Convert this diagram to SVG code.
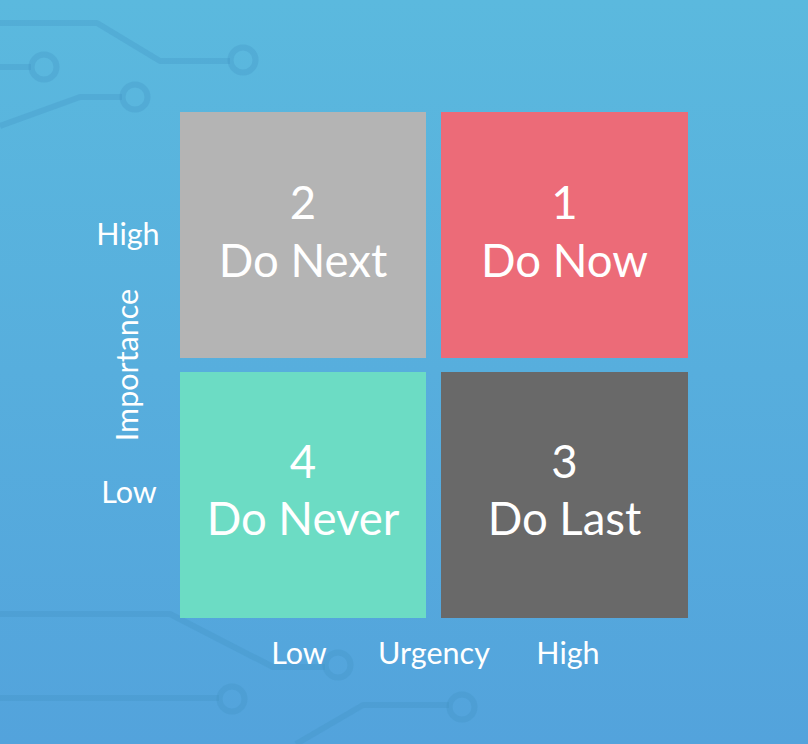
<svg xmlns="http://www.w3.org/2000/svg" width="808" height="744" viewBox="0 0 808 744">
<defs>
<linearGradient id="bg" x1="0" y1="0" x2="0" y2="1">
<stop offset="0" stop-color="#5bb9de"/>
<stop offset="1" stop-color="#53a3dc"/>
</linearGradient>
<style>
.c{fill:none;stroke:#3f8fc0;stroke-opacity:0.27;stroke-width:6;stroke-linejoin:round}
.q{font-family:Lato,"Open Sans","Liberation Sans",sans-serif;fill:#ffffff;text-anchor:middle;font-size:45.5px}
.a{font-family:Lato,"Open Sans","Liberation Sans",sans-serif;fill:#ffffff;text-anchor:middle;font-size:30.5px}
</style>
</defs>
<rect x="0" y="0" width="808" height="744" fill="url(#bg)"/>
<g id="circuits">
<path class="c" d="M0 23 H97 L160 61 H230"/>
<circle class="c" cx="243" cy="60" r="12.5"/>
<path class="c" d="M0 67 H31"/>
<circle class="c" cx="44" cy="67" r="12.5"/>
<path class="c" d="M0 126 L80 97 H122"/>
<circle class="c" cx="135" cy="97" r="12.5"/>
<path class="c" d="M0 614 H170 L273 667 H325"/>
<circle class="c" cx="338" cy="665" r="12.5"/>
<path class="c" d="M0 698 H219"/>
<circle class="c" cx="232" cy="699" r="12.5"/>
<path class="c" d="M296 744 L363 705 H449"/>
<circle class="c" cx="462" cy="707" r="12.5"/>
</g>
<g id="q2">
<rect x="180" y="112" width="246" height="246" fill="#b4b4b4"/>
<text class="q" x="303" y="219">2</text>
<text class="q" x="303" y="277">Do Next</text>
</g>
<g id="q1">
<rect x="441" y="112" width="247" height="246" fill="#ec6b78"/>
<text class="q" x="564.5" y="219">1</text>
<text class="q" x="564.5" y="277">Do Now</text>
</g>
<g id="q4">
<rect x="180" y="372" width="246" height="246" fill="#6cdcc4"/>
<text class="q" x="303" y="478">4</text>
<text class="q" x="303" y="535">Do Never</text>
</g>
<g id="q3">
<rect x="441" y="372" width="247" height="246" fill="#696969"/>
<text class="q" x="564.5" y="478">3</text>
<text class="q" x="564.5" y="535">Do Last</text>
</g>
<g id="axes">
<text class="a" x="128" y="245">High</text>
<text class="a" x="129" y="503">Low</text>
<text class="a" transform="translate(138 365) rotate(-90)">Importance</text>
<text class="a" x="299" y="664">Low</text>
<text class="a" x="434" y="664">Urgency</text>
<text class="a" x="568" y="664">High</text>
</g>
</svg>
